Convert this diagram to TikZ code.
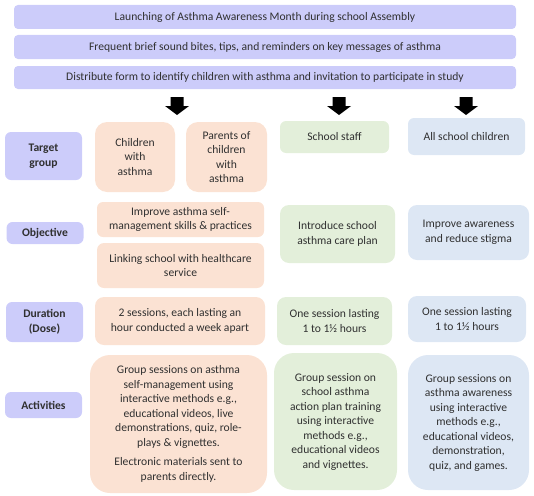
\documentclass[tikz,border=0pt]{standalone}
\usepackage{fontspec}
\setmainfont{Carlito}

\definecolor{lavbox}{HTML}{CCCCFA}
\definecolor{peachbox}{HTML}{FBE2D3}
\definecolor{greenbox}{HTML}{E3EFDA}
\definecolor{bluebox}{HTML}{DDE7F4}
\definecolor{inktext}{HTML}{303030}

% block arrow hanging from a coordinate
\newcommand{\blockarrow}[1]{%
  \fill[black, shift={(#1)}] (-6.5,0) -- (6.5,0) -- (6.5,9) -- (12,9) -- (0,18) -- (-12,9) -- (-6.5,9) -- cycle;}

\begin{document}
\begin{tikzpicture}[x=1pt, y=-1pt,
  every node/.style={font=\fontsize{11.6}{14.5}\selectfont, text=inktext, align=center, inner sep=0pt},
  bar/.style={fill=lavbox, rounded corners=4pt, minimum width=502pt, minimum height=24pt},
  rowlabel/.style={fill=lavbox, rounded corners=6pt, minimum width=77pt, font=\fontsize{11.6}{14.5}\selectfont\bfseries},
  peach/.style={fill=peachbox, rounded corners=9pt},
  green/.style={fill=greenbox, rounded corners=9pt},
  blue/.style={fill=bluebox, rounded corners=9pt}]
  \useasboundingbox (0,0) rectangle (534,495);
  % school-wide steps
  \node[bar] (launch) at (265,17) {Launching of Asthma Awareness Month during school Assembly};
  \node[bar] (bites) at (265,47) {Frequent brief sound bites, tips, and reminders on key messages of asthma};
  \node[bar, minimum height=23pt] (form) at (265,77.5) {Distribute form to identify children with asthma and invitation to participate in study};
  % block arrows
  \coordinate (arrA) at (177,97);
  \coordinate (arrB) at (339,97);
  \coordinate (arrC) at (466,97);
  \blockarrow{arrA}
  \blockarrow{arrB}
  \blockarrow{arrC}
  % row labels
  \node[rowlabel, minimum height=48pt] (target) at (43.5,156) {Target\\group};
  \node[rowlabel, minimum height=22pt] (objective) at (45,233) {Objective};
  \node[rowlabel, minimum height=40pt] (duration) at (44.5,322) {Duration\\(Dose)};
  \node[rowlabel, minimum height=26pt] (activities) at (43.5,405) {Activities};
  % children with asthma and parents
  \node[peach, minimum width=80pt, minimum height=70pt, rounded corners=12pt] (kids) at (135,157) {Children\\with\\asthma};
  \node[peach, minimum width=81pt, minimum height=70pt, rounded corners=12pt] (parents) at (226.5,157) {Parents of\\children\\with\\asthma};
  \node[peach, minimum width=167pt, minimum height=35pt, rounded corners=6pt] (selfmgmt) at (180.5,219.5) {Improve asthma self-\\management skills \& practices};
  \node[peach, minimum width=167pt, minimum height=45pt, rounded corners=7pt] (linking) at (180.5,265.5) {Linking school with healthcare\\service};
  \node[peach, minimum width=170pt, minimum height=48pt] (twosess) at (180,321) {2 sessions, each lasting an\\hour conducted a week apart};
  \node[peach, minimum width=177pt, minimum height=138pt, rounded corners=20pt] (kidsact) at (178.5,424)
    {Group sessions on asthma\\self-management using\\interactive methods e.g.,\\educational videos, live\\demonstrations, quiz, role-\\plays \& vignettes.\\[5pt]Electronic materials sent to\\parents directly.};
  % school staff
  \node[green, minimum width=109pt, minimum height=32pt, rounded corners=6pt] (staff) at (334.5,137) {School staff};
  \node[green, minimum width=115pt, minimum height=58pt] (careplan) at (337.5,234) {Introduce school\\asthma care plan};
  \node[green, minimum width=115pt, minimum height=48pt] (staffsess) at (334.5,321) {One session lasting\\1 to 1\textonehalf{} hours};
  \node[green, minimum width=123pt, minimum height=137pt, rounded corners=20pt] (staffact) at (335.5,421.5)
    {Group session on\\school asthma\\action plan training\\using interactive\\methods e.g.,\\educational videos\\and vignettes.};
  % all school children
  \node[blue, minimum width=117pt, minimum height=37pt, rounded corners=6pt] (allkids) at (466.5,136.5) {All school children};
  \node[blue, minimum width=121pt, minimum height=55pt] (stigma) at (468.5,232.5) {Improve awareness\\and reduce stigma};
  \node[blue, minimum width=118pt, minimum height=46pt] (allsess) at (467,319) {One session lasting\\1 to 1\textonehalf{} hours};
  \node[blue, minimum width=121pt, minimum height=135pt, rounded corners=20pt] (allact) at (468.5,422.5)
    {Group sessions on\\asthma awareness\\using interactive\\methods e.g.,\\educational videos,\\demonstration,\\quiz, and games.};
\end{tikzpicture}
\end{document}
